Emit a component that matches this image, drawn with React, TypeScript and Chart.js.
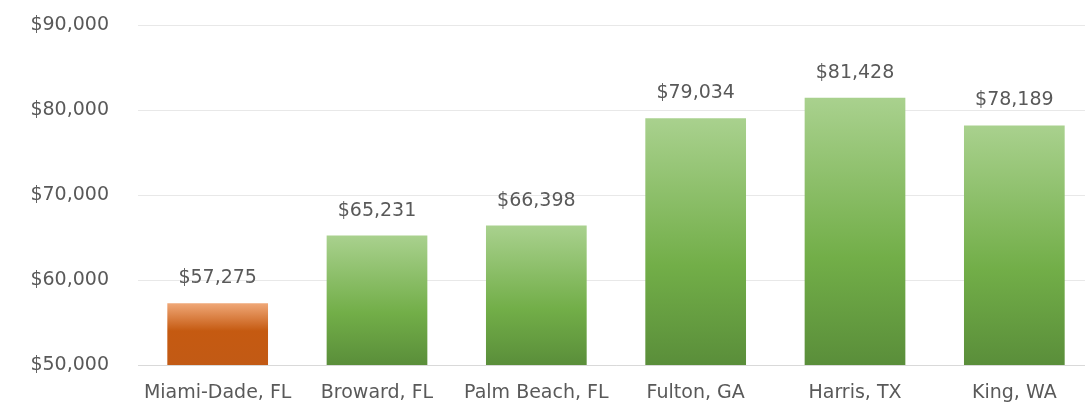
import React, { useEffect, useRef } from "react";
import { Chart, registerables } from "chart.js";

Chart.register(...registerables);

const categories = ["Miami-Dade, FL", "Broward, FL", "Palm Beach, FL", "Fulton, GA", "Harris, TX", "King, WA"];
const incomeValues = [57275, 65231, 66398, 79034, 81428, 78189];
const highlightIndex = [true, false, false, false, false, false];
const yTicks = [50000, 60000, 70000, 80000, 90000];

const FONT = "'DejaVu Sans', sans-serif";
const TEXT_COLOR = "#595959";

const fmt = (v: number) => "$" + v.toLocaleString("en-US");

const labelPlugin = {
  id: "barLabels",
  afterDatasetsDraw(chart: any) {
    const ctx = chart.ctx;
    const meta = chart.getDatasetMeta(0);
    ctx.save();
    ctx.font = `19px ${FONT}`;
    ctx.fillStyle = TEXT_COLOR;
    ctx.textAlign = "center";
    ctx.textBaseline = "alphabetic";
    meta.data.forEach((bar: any, i: number) => {
      ctx.fillText(fmt(incomeValues[i]), bar.x, bar.y - 20);
    });
    ctx.restore();
  },
};

export default function App() {
  const ref = useRef<HTMLCanvasElement | null>(null);

  useEffect(() => {
    document.body.style.margin = "0";
    const canvas = ref.current;
    if (!canvas) return;
    const chart = new Chart(canvas, {
      type: "bar",
      data: {
        labels: categories,
        datasets: [
          {
            data: incomeValues,
            barPercentage: 0.632,
            categoryPercentage: 1,
            borderWidth: 0,
            backgroundColor: (context: any) => {
              const c = context.chart;
              const ys = c.scales && c.scales.y;
              const idx = context.dataIndex;
              const isHi = highlightIndex[idx];
              const fallback = isHi ? "#C55A11" : "#70AD47";
              if (!ys || idx === undefined) return fallback;
              const top = ys.getPixelForValue(incomeValues[idx]);
              const bottom = ys.getPixelForValue(50000);
              if (!isFinite(top) || !isFinite(bottom) || top === bottom) return fallback;
              const g = c.ctx.createLinearGradient(0, top, 0, bottom);
              if (isHi) {
                g.addColorStop(0, "#F0A878");
                g.addColorStop(0.45, "#C55A11");
                g.addColorStop(1, "#C25A15");
              } else {
                g.addColorStop(0, "#A9D18E");
                g.addColorStop(0.6, "#72AE48");
                g.addColorStop(1, "#5A8E3A");
              }
              return g;
            },
          },
        ],
      },
      options: {
        responsive: false,
        animation: false,
        layout: { padding: { top: 25, right: 6, bottom: 0, left: 0 } },
        plugins: {
          legend: { display: false },
          tooltip: { enabled: false },
        },
        scales: {
          x: {
            grid: { display: false, drawTicks: false },
            border: { display: true, color: "#D9D9D9", width: 1 },
            ticks: {
              color: TEXT_COLOR,
              font: { family: FONT, size: 19 },
              padding: 17,
              maxRotation: 0,
              autoSkip: false,
            },
            afterFit: (scale: any) => {
              scale.height = 43;
            },
          },
          y: {
            min: 50000,
            max: 90000,
            afterBuildTicks: (scale: any) => {
              scale.ticks = yTicks.map((v) => ({ value: v }));
            },
            grid: { color: "#E8E8E8", lineWidth: 1, drawTicks: false },
            border: { display: false },
            ticks: {
              color: TEXT_COLOR,
              font: { family: FONT, size: 19 },
              padding: 29,
              callback: (v: any) => fmt(Number(v)),
            },
            afterFit: (scale: any) => {
              scale.width = 138;
              scale.paddingTop = 0;
              scale.paddingBottom = 0;
            },
          },
        },
      },
      plugins: [labelPlugin],
    });
    return () => chart.destroy();
  }, []);

  return (
    <div style={{ width: 1085, height: 408, overflow: "hidden", background: "#fff" }}>
      <canvas ref={ref} width={1100} height={408} style={{ width: 1100, height: 408, display: "block" }} />
    </div>
  );
}
